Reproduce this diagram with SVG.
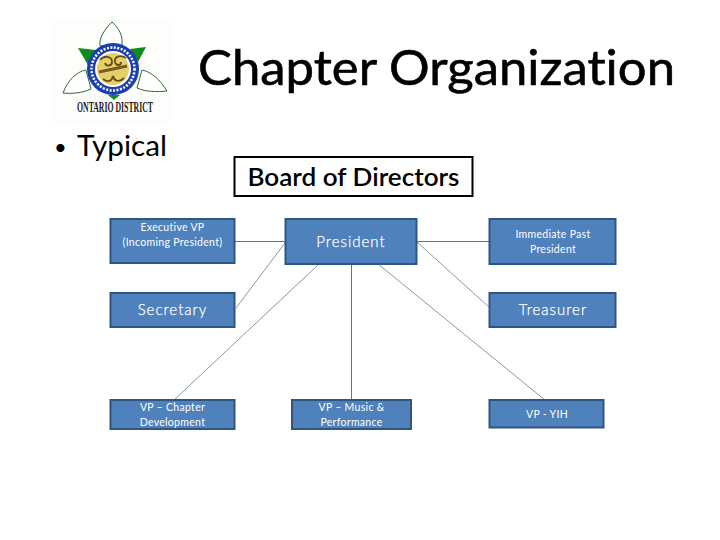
<svg xmlns="http://www.w3.org/2000/svg" width="720" height="540" viewBox="0 0 720 540">
<style>
text{font-variant-ligatures:none}
.box{fill:#4f81bd;stroke:#30557f;stroke-width:2}
.t{font-family:"Lato","Open Sans","Liberation Sans",sans-serif;fill:#fff;text-anchor:middle}
.s{font-size:10.5px;letter-spacing:.3px;font-weight:400}
.l{font-size:15px;letter-spacing:1px;font-weight:300;stroke:#fff;stroke-width:.25}
.h{font-family:"Lato","Open Sans","Liberation Sans",sans-serif;fill:#000}
.c{fill:none;stroke:#4a7ba7;stroke-width:1}
.c2{fill:none;stroke:#5f7f94;stroke-width:.8}
.leaf{fill:#fff;stroke:#2f6b2f;stroke-width:1}
.g{fill:#128a1e}
</style>
<rect width="720" height="540" fill="#fff"/>
<g id="logo">
<rect x="50" y="20" width="122" height="103" fill="#fdfdfb"/>
<path class="leaf" d="M112 22C104 30 99 38 100 46L122 45C123 36 119 28 112 22Z"/>
<path class="leaf" d="M63 93C68 80 76 72 86 70L91 89C82 93 72 94 63 93Z"/>
<path class="leaf" d="M167 91C160 80 152 72 142 70L137 88C146 92 157 92 167 91Z"/>
<path class="g" d="M78 48L96 50L88 65Z"/>
<path class="g" d="M146 47L130 49L138 62Z"/>
<path class="g" d="M108 95L120 95L114 100Z"/>
<circle cx="113" cy="69" r="26" fill="#1a3fb0"/>
<circle cx="113" cy="69" r="21.500" fill="none" stroke="#fff" stroke-width="2.500" stroke-dasharray="2 1.500"/>
<circle cx="113" cy="69" r="18" fill="#fff"/>
<circle cx="113" cy="69" r="16" fill="#e3d06a"/>
<path d="M100 60C104 55 112 56 112 62C112 66 106 67 105 63M126 58C120 54 114 57 115 62C116 66 121 66 121 62M103 79C108 83 112 81 113 76C114 81 119 83 124 78" fill="none" stroke="#6b4a12" stroke-width="1.800"/>
<path d="M99 72L127 66" stroke="#7a5a1e" stroke-width="3"/>
<text x="115" y="112" font-family="Liberation Serif,serif" font-size="14" font-weight="bold" fill="#1a1a1a" text-anchor="middle" textLength="76" lengthAdjust="spacingAndGlyphs">ONTARIO DISTRICT</text>
</g>
<g id="title"><text class="h" x="198" y="85" font-size="48" stroke="#000" stroke-width=".6" textLength="477" lengthAdjust="spacingAndGlyphs">Chapter Organization</text></g>
<g id="bullet"><text class="h" x="54" y="155" font-size="22" font-family="Liberation Sans">•</text><text class="h" x="77" y="156" font-size="29" textLength="90" lengthAdjust="spacingAndGlyphs">Typical</text></g>
<g id="connectors">
<path class="c" d="M235 241.500H285M417 241.500H490M351.500 264V400"/>
<path class="c2" d="M285 243L236 308M319 264L174 400M378 264L545 400M417 242L490 308"/>
</g>
<g id="board"><rect x="234.500" y="157" width="238" height="39" fill="#fff" stroke="#000" stroke-width="2"/><text class="h" x="353.500" y="186" font-size="24.500" font-weight="600" text-anchor="middle" textLength="212" lengthAdjust="spacingAndGlyphs">Board of Directors</text></g>
<g id="exec"><rect class="box" x="110.500" y="219" width="124" height="44"/><text class="t s" x="172.500" y="231">Executive VP</text><text class="t s" x="172.500" y="246">(Incoming President)</text></g>
<g id="president"><rect class="box" x="285.500" y="219" width="131" height="45"/><text class="t l" x="351" y="247">President</text></g>
<g id="past"><rect class="box" x="489.500" y="219" width="126" height="45"/><text class="t s" x="553" y="238">Immediate Past</text><text class="t s" x="553" y="253">President</text></g>
<g id="secretary"><rect class="box" x="110.500" y="293" width="124" height="34"/><text class="t l" x="172.500" y="315">Secretary</text></g>
<g id="treasurer"><rect class="box" x="489.500" y="293" width="126" height="34"/><text class="t l" x="553" y="315">Treasurer</text></g>
<g id="vp-chapter"><rect class="box" x="110.500" y="400" width="124" height="29"/><text class="t s" x="172.500" y="411">VP – Chapter</text><text class="t s" x="172.500" y="426">Development</text></g>
<g id="vp-music"><rect class="box" x="292" y="400" width="119" height="29"/><text class="t s" x="351.500" y="411">VP – Music &amp;</text><text class="t s" x="351.500" y="426">Performance</text></g>
<g id="vp-yih"><rect class="box" x="489.500" y="400" width="114" height="27.500"/><text class="t s" x="547" y="418">VP - YIH</text></g>
</svg>
